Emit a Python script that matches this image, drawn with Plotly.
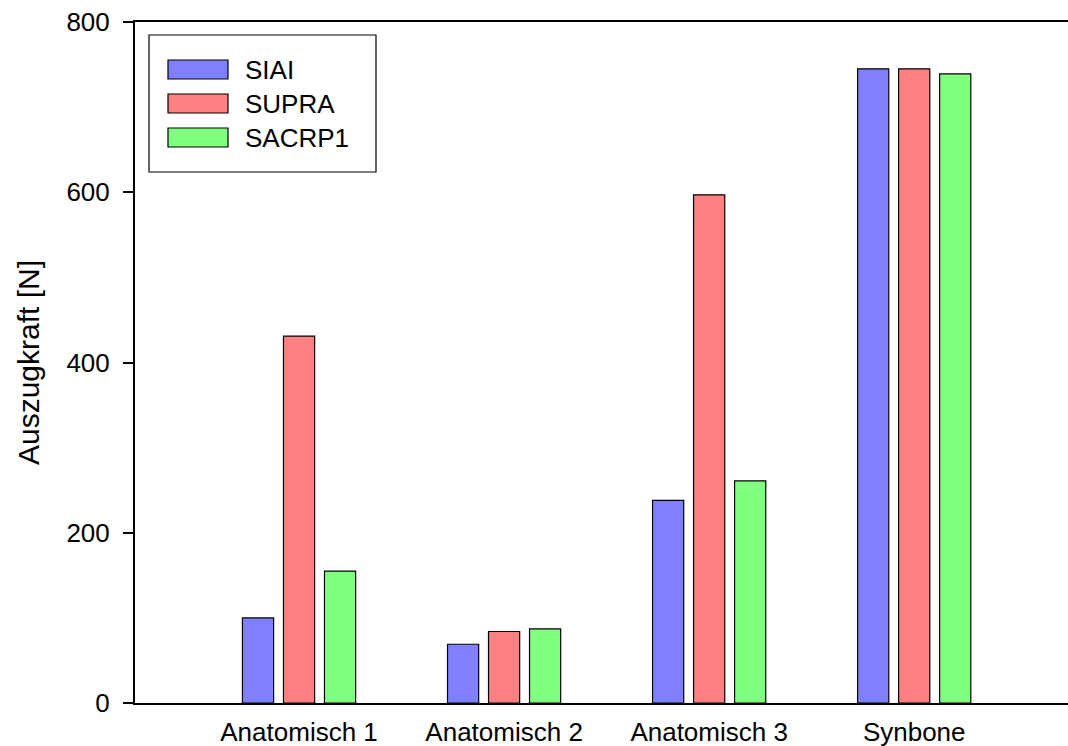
import plotly.graph_objects as go

categories = ["Anatomisch 1", "Anatomisch 2", "Anatomisch 3", "Synbone"]
series_names = ["SIAI", "SUPRA", "SACRP1"]
siai = [100, 69, 238, 745]
supra = [431, 84, 597, 745]
sacrp1 = [155, 87, 261, 739]
colors = ["#8080FF", "#FF8080", "#80FF80"]
y_ticks = [0, 200, 400, 600, 800]

values = [siai, supra, sacrp1]
FONT = "Liberation Sans, Arial, sans-serif"

fig = go.Figure()
for name, vals, col in zip(series_names, values, colors):
    fig.add_trace(go.Bar(
        x=categories, y=vals, name=name,
        marker=dict(color=col, line=dict(color="#000000", width=1.2)),
        showlegend=False,
    ))

# plot area in pixels: x 135..1068, y 22..703
W, H = 1068, 746
L, R, T, B = 135, 1068, 22, 703
def px(x):
    return (x - L) / (R - L)
def py(y):
    return (B - y) / (B - T)

shapes = [dict(type="rect", xref="paper", yref="paper",
               x0=px(149), x1=px(376), y0=py(172), y1=py(35),
               line=dict(color="#000000", width=1.2), fillcolor="white", layer="above")]
annotations = []
rows = [(60, 79), (94, 113), (128, 147)]
for (t, b), name, col in zip(rows, series_names, colors):
    shapes.append(dict(type="rect", xref="paper", yref="paper",
                       x0=px(168), x1=px(228), y0=py(b), y1=py(t),
                       line=dict(color="#000000", width=1.2), fillcolor=col, layer="above"))
    annotations.append(dict(xref="paper", yref="paper", x=px(243), y=py((t + b) / 2),
                            text=name, showarrow=False, xanchor="left", yanchor="middle",
                            font=dict(family=FONT, size=26, color="#000000")))

fig.update_layout(
    width=W, height=H,
    margin=dict(l=L, r=W - R, t=T, b=H - B),
    paper_bgcolor="white", plot_bgcolor="white",
    barmode="group", bargap=0.4, bargroupgap=0.24,
    font=dict(family=FONT, size=26, color="#000000"),
    shapes=shapes, annotations=annotations,
    showlegend=False,
)
fig.update_xaxes(
    range=[-0.8, 3.75], showline=True, linecolor="#000000", linewidth=2,
    mirror=True, ticks="", showgrid=False, zeroline=False,
    ticklabelstandoff=5,
    tickfont=dict(family=FONT, size=26, color="#000000"),
)
fig.update_yaxes(
    range=[0, 800], tickvals=y_ticks, showline=True, linecolor="#000000", linewidth=2,
    ticks="outside", ticklen=10, tickwidth=2, tickcolor="#000000",
    showgrid=False, zeroline=False,
    ticklabelstandoff=8,
    tickfont=dict(family=FONT, size=26, color="#000000"),
    title=dict(text="Auszugkraft [N]", font=dict(family=FONT, size=30, color="#000000"), standoff=18),
)

fig.write_html("out.html", config={"displayModeBar": False},
               post_script="document.body.style.margin='0';document.body.style.overflow='hidden';")
